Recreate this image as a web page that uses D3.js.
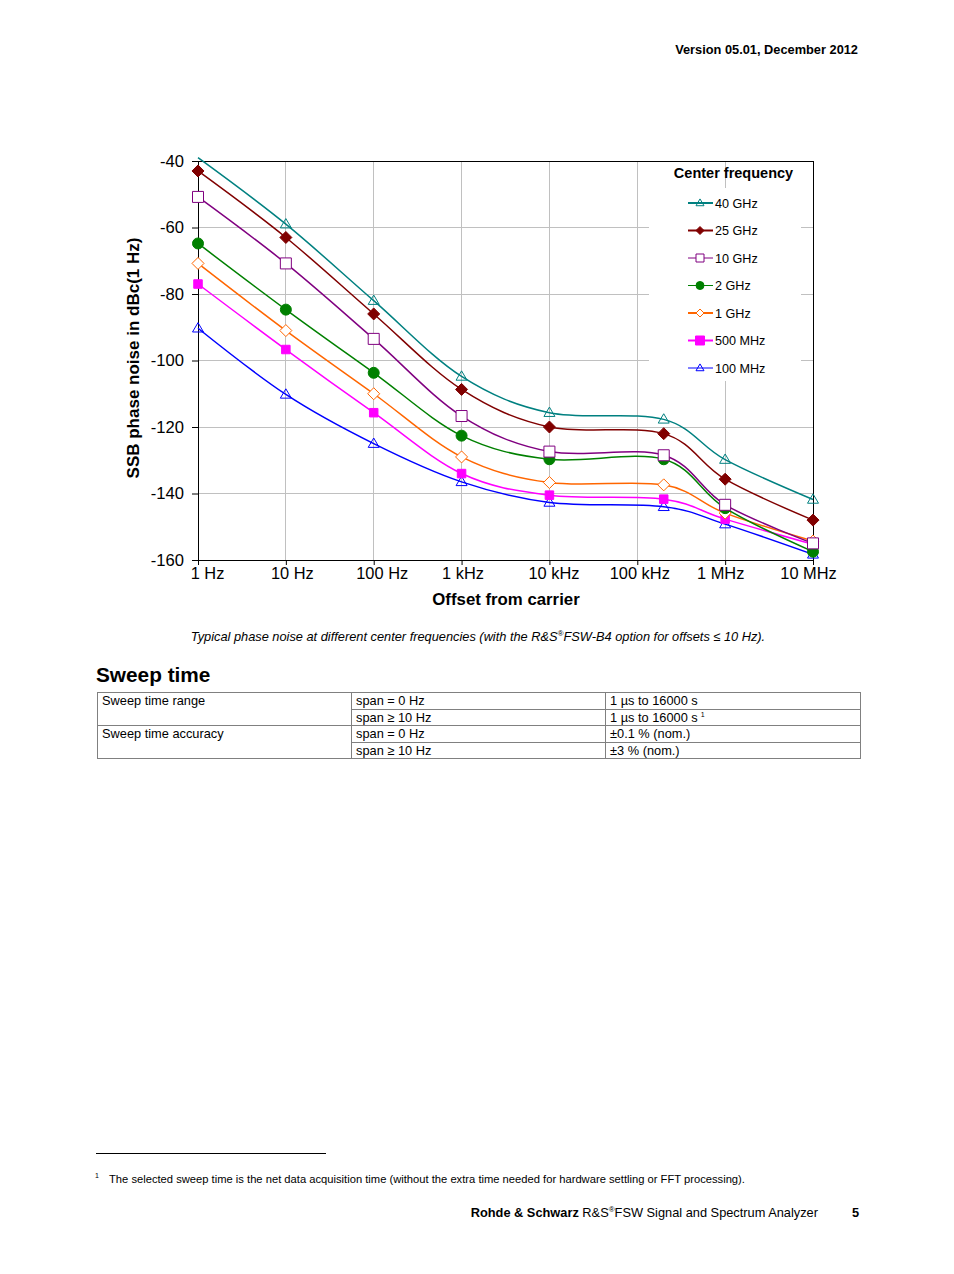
<!DOCTYPE html>
<html><head><meta charset="utf-8">
<script src="https://cdn.jsdelivr.net/npm/d3@7"></script>
<style>
html,body{margin:0;padding:0;background:#fff;}
svg{display:block;font-family:"Liberation Sans",Arial,sans-serif;}
</style></head>
<body>
<script>
// ---------- data ----------
const offsets = [1, 10, 100, 1e3, 1e4, 2e5, 1e6, 1e7];
const xTicks = [1, 10, 100, 1e3, 1e4, 1e5, 1e6, 1e7];
const xTickLabels = ["1 Hz", "10 Hz", "100 Hz", "1 kHz", "10 kHz", "100 kHz", "1 MHz", "10 MHz"];
const yTicks = [-160, -140, -120, -100, -80, -60, -40];
const seriesNames = ["40 GHz", "25 GHz", "10 GHz", "2 GHz", "1 GHz", "500 MHz", "100 MHz"];
const ghz40  = [-39.0, -59.0, -82.0, -104.8, -115.7, -117.7, -129.8, -141.8];
const ghz25  = [-43.0, -63.0, -86.0, -108.7, -120.0, -122.0, -135.7, -148.0];
const ghz10  = [-50.8, -70.8, -93.5, -116.7, -127.4, -128.5, -143.4, -155.0];
const ghz2   = [-64.8, -84.7, -103.7, -122.6, -129.7, -129.7, -144.4, -157.5];
const ghz1   = [-70.8, -91.0, -110.0, -129.0, -136.7, -137.4, -145.9, -154.3];
const mhz500 = [-77.0, -96.7, -115.7, -134.0, -140.5, -141.7, -147.7, -155.3];
const mhz100 = [-90.3, -110.2, -125.0, -136.5, -142.7, -144.0, -149.2, -158.3];

const tableRows = [
  ["Sweep time range", "span = 0 Hz", "1 µs to 16000 s"],
  ["", "span ≥ 10 Hz", "1 µs to 16000 s"],
  ["Sweep time accuracy", "span = 0 Hz", "±0.1 % (nom.)"],
  ["", "span ≥ 10 Hz", "±3 % (nom.)"]
];

// ---------- styles ----------
const seriesValues = [ghz40, ghz25, ghz10, ghz2, ghz1, mhz500, mhz100];
const styles = [
  {color: "#008080", marker: "triangle", fill: false, lw: 2},
  {color: "#800000", marker: "diamond",  fill: true,  lw: 2},
  {color: "#800080", marker: "square",   fill: false, lw: 1},
  {color: "#008000", marker: "circle",   fill: true,  lw: 1},
  {color: "#FF6600", marker: "diamond",  fill: false, lw: 2},
  {color: "#FF00FF", marker: "squareS",  fill: true,  lw: 2},
  {color: "#0000FF", marker: "triangle", fill: false, lw: 1}
];
const labelNudge = [9, 6, 8, 1, 4, 2, -5, -5];

const W = 954, H = 1274;
const svg = d3.select("body").append("svg").attr("width", W).attr("height", H);
svg.append("rect").attr("width", W).attr("height", H).attr("fill", "#fff");

// header
svg.append("text").attr("x", 858).attr("y", 54).attr("text-anchor", "end")
  .attr("font-size", 12.8).attr("font-weight", "bold").text("Version 05.01, December 2012");

// ---------- chart ----------
const x = d3.scaleLog().domain([1, 1e7]).range([198, 813]);
const y = d3.scaleLinear().domain([-160, -40]).range([560, 161]);

const g = svg.append("g");
// grid
g.append("g").selectAll("line").data(xTicks.slice(1, -1)).join("line")
  .attr("x1", d => x(d)).attr("x2", d => x(d)).attr("y1", y(-40)).attr("y2", y(-160))
  .attr("stroke", "#c0c0c0").attr("stroke-width", 1).attr("shape-rendering", "crispEdges");
g.append("g").selectAll("line").data(yTicks.slice(1, -1)).join("line")
  .attr("x1", x(1)).attr("x2", x(1e7)).attr("y1", d => y(d)).attr("y2", d => y(d))
  .attr("stroke", "#c0c0c0").attr("stroke-width", 1).attr("shape-rendering", "crispEdges");
// frame top/right
g.append("path").attr("d", `M${x(1)},${y(-40)}H${x(1e7)}V${y(-160)}`)
  .attr("fill", "none").attr("stroke", "#000").attr("stroke-width", 1).attr("shape-rendering", "crispEdges");

// legend background (hides grid)
const legX = 649, legY = 188;
g.append("rect").attr("x", legX).attr("y", legY).attr("width", 152).attr("height", 193).attr("fill", "#fff");
g.append("text").attr("x", 733.5).attr("y", 178).attr("text-anchor", "middle")
  .attr("font-size", 14.5).attr("font-weight", "bold").text("Center frequency");

// axes
const xAxis = d3.axisBottom(x).tickValues(xTicks).tickFormat((d, i) => xTickLabels[i])
  .tickSize(5).tickPadding(2);
const xa = g.append("g").attr("transform", `translate(0,${y(-160)})`).call(xAxis);
xa.selectAll("text").attr("font-size", 16.4).attr("fill", "#000")
  .attr("font-family", "Liberation Sans, Arial, sans-serif")
  .attr("dx", (d, i) => labelNudge[i]);
xa.select(".domain").attr("stroke", "#000");
xa.selectAll(".tick line").attr("stroke", "#000");

const yAxis = d3.axisLeft(y).tickValues(yTicks).tickFormat(d => d).tickSize(6).tickPadding(8);
const ya = g.append("g").attr("transform", `translate(${x(1)},0)`).call(yAxis);
ya.selectAll("text").attr("font-size", 16.6).attr("fill", "#000")
  .attr("font-family", "Liberation Sans, Arial, sans-serif");
ya.select(".domain").attr("stroke", "#000");
ya.selectAll(".tick line").attr("stroke", "#000");

// axis titles
g.append("text").attr("transform", "translate(139,358) rotate(-90)").attr("text-anchor", "middle")
  .attr("font-size", 17).attr("font-weight", "bold").text("SSB phase noise in dBc(1 Hz)");
g.append("text").attr("x", 506).attr("y", 605).attr("text-anchor", "middle")
  .attr("font-size", 16.8).attr("font-weight", "bold").text("Offset from carrier");

// marker path generator
function markerPath(type, s) {
  switch (type) {
    case "triangle": { const h = s * 0.85; return `M0,${-h*0.6}L${s/2},${h*0.4}L${-s/2},${h*0.4}Z`; }
    case "diamond": { const r = s / 2; return `M0,${-r}L${r},0L0,${r}L${-r},0Z`; }
    case "square": case "squareS": { const r = s / 2; return `M${-r},${-r}H${r}V${r}H${-r}Z`; }
    case "circle": { const r = s / 2; return `M${r},0A${r},${r} 0 1,1 ${-r},0A${r},${r} 0 1,1 ${r},0Z`; }
  }
}
const chartSize = {triangle: 11, diamond: 12, square: 11, squareS: 8.5, circle: 11};
const legendSize = {triangle: 8, diamond: 8, square: 8, squareS: 9, circle: 8};

const line = d3.line().x(d => x(d[0])).y(d => y(d[1])).curve(d3.curveCardinal.tension(0));

const order = d3.range(seriesValues.length).reverse();
order.forEach(i => {
  const st = styles[i];
  const pts = offsets.map((o, j) => [o, seriesValues[i][j]]);
  g.append("path").attr("d", line(pts)).attr("fill", "none")
    .attr("stroke", st.color).attr("stroke-width", 1.5);
});
order.forEach(i => {
  const st = styles[i];
  const pts = offsets.map((o, j) => [o, seriesValues[i][j]]).filter(p => p[1] <= -40);
  g.append("g").selectAll("path").data(pts).join("path")
    .attr("transform", d => `translate(${x(d[0])},${y(d[1])})`)
    .attr("d", markerPath(st.marker, chartSize[st.marker]))
    .attr("fill", st.fill ? st.color : (st.marker === "triangle" ? "none" : "#fff"))
    .attr("stroke", st.color).attr("stroke-width", 1);
});

// legend entries
seriesNames.forEach((name, i) => {
  const st = styles[i];
  const yy = 203 + i * 27.5;
  const lg = g.append("g").attr("transform", `translate(0,${yy})`);
  lg.append("line").attr("x1", 688).attr("x2", 713).attr("y1", 0).attr("y2", 0)
    .attr("stroke", st.color).attr("stroke-width", st.lw);
  lg.append("path").attr("transform", "translate(700,0)")
    .attr("d", markerPath(st.marker, legendSize[st.marker]))
    .attr("fill", st.fill ? st.color : (st.marker === "triangle" ? "none" : "#fff"))
    .attr("stroke", st.color).attr("stroke-width", 1);
  lg.append("text").attr("x", 715).attr("y", 4.5).attr("font-size", 12.6).text(name);
});

// caption
const cap = svg.append("text").attr("x", 478).attr("y", 641).attr("text-anchor", "middle")
  .attr("font-size", 12.8).attr("font-style", "italic");
cap.append("tspan").text("Typical phase noise at different center frequencies (with the R&S");
cap.append("tspan").attr("font-size", 8).attr("dy", -5).text("®");
cap.append("tspan").attr("dy", 5).text("FSW-B4 option for offsets ≤ 10 Hz).");

// section heading
svg.append("text").attr("x", 96).attr("y", 682).attr("font-size", 20.8).attr("font-weight", "bold").text("Sweep time");

// table
const colX = [97, 351, 605, 860];
const rowY = [692, 709, 725, 742, 758];
const tg = svg.append("g").attr("stroke", "#808080").attr("stroke-width", 1).attr("shape-rendering", "crispEdges");
tg.append("rect").attr("x", colX[0]).attr("y", rowY[0]).attr("width", colX[3] - colX[0]).attr("height", rowY[4] - rowY[0]).attr("fill", "none");
[1, 2].forEach(c => tg.append("line").attr("x1", colX[c]).attr("x2", colX[c]).attr("y1", rowY[0]).attr("y2", rowY[4]));
tg.append("line").attr("x1", colX[0]).attr("x2", colX[3]).attr("y1", rowY[2]).attr("y2", rowY[2]);
[1, 3].forEach(r => tg.append("line").attr("x1", colX[1]).attr("x2", colX[3]).attr("y1", rowY[r]).attr("y2", rowY[r]));
tableRows.forEach((row, r) => {
  row.forEach((cell, c) => {
    if (!cell) return;
    const t = svg.append("text").attr("x", colX[c] + 5).attr("y", rowY[r] + 12.5).attr("font-size", 12.8).text(cell);
    if (r === 1 && c === 2) t.append("tspan").attr("font-size", 7).attr("dy", -5).attr("dx", 3).text("1");
  });
});

// footnote
svg.append("line").attr("x1", 96).attr("x2", 326).attr("y1", 1153.5).attr("y2", 1153.5).attr("stroke", "#000");
svg.append("text").attr("x", 95).attr("y", 1178).attr("font-size", 7).text("1");
svg.append("text").attr("x", 109).attr("y", 1183).attr("font-size", 11.2)
  .text("The selected sweep time is the net data acquisition time (without the extra time needed for hardware settling or FFT processing).");

// footer
const ft = svg.append("text").attr("x", 818).attr("y", 1217).attr("text-anchor", "end").attr("font-size", 12.8);
ft.append("tspan").attr("font-weight", "bold").text("Rohde & Schwarz");
ft.append("tspan").text(" R&S");
ft.append("tspan").attr("font-size", 8).attr("dy", -5).text("®");
ft.append("tspan").attr("dy", 5).text("FSW Signal and Spectrum Analyzer");
svg.append("text").attr("x", 852).attr("y", 1217).attr("font-size", 12.8).attr("font-weight", "bold").text("5");
</script>
</body></html>
